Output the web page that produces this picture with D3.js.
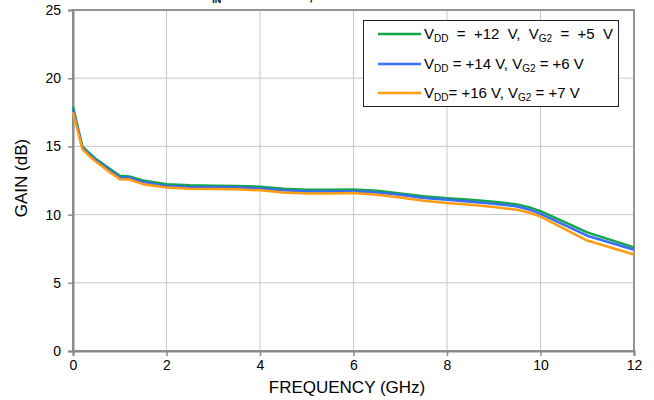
<!DOCTYPE html>
<html>
<head>
<meta charset="utf-8">
<script src="https://cdn.jsdelivr.net/npm/d3@7"></script>
<style>
  html, body { margin: 0; padding: 0; background: #fff; }
  svg { display: block; font-family: "Liberation Sans", Arial, sans-serif; }
</style>
</head>
<body>
<svg id="chart" width="654" height="400"></svg>
<script>
// ---- data ----
const freq = [0, 0.2, 0.35, 0.5, 0.75, 1.0, 1.2, 1.5, 2, 2.5, 3, 3.5, 4, 4.5, 5, 5.5, 6, 6.5, 7, 7.5, 8, 8.5, 9, 9.5, 9.75, 10, 11, 12];
const gainV12 = [17.9, 15.0, 14.5, 14.05, 13.45, 12.85, 12.8, 12.5, 12.22, 12.15, 12.12, 12.1, 12.05, 11.9, 11.82, 11.82, 11.84, 11.75, 11.55, 11.35, 11.2, 11.08, 10.95, 10.75, 10.55, 10.25, 8.7, 7.6];
const gainV14 = [17.7, 14.9, 14.4, 13.95, 13.33, 12.72, 12.7, 12.38, 12.1, 12.02, 12.0, 12.0, 11.92, 11.78, 11.7, 11.7, 11.72, 11.62, 11.45, 11.22, 11.08, 10.95, 10.8, 10.6, 10.38, 10.05, 8.45, 7.42];
const gainV16 = [17.5, 14.8, 14.28, 13.85, 13.2, 12.6, 12.57, 12.23, 11.99, 11.9, 11.87, 11.85, 11.78, 11.62, 11.55, 11.55, 11.58, 11.45, 11.25, 11.02, 10.85, 10.72, 10.55, 10.35, 10.15, 9.85, 8.1, 7.07];
const xTicks = [0, 2, 4, 6, 8, 10, 12];
const yTicks = [0, 5, 10, 15, 20, 25];
const seriesNames = [
  {vdd: "+12", vg2: "+5", wide: true},
  {vdd: "+14", vg2: "+6", wide: false},
  {vdd: "+16", vg2: "+7", wide: false}
];
const seriesValues = [gainV12, gainV14, gainV16];
const seriesColors = ["#12a54a", "#3a6cf4", "#ff9c12"];

// ---- layout ----
const svg = d3.select("#chart");
const L = 73, R = 634, T = 10, B = 351;
const x = d3.scaleLinear().domain([0, 12]).range([L, R]);
const y = d3.scaleLinear().domain([0, 25]).range([B, T]);

// partial (clipped at the page top) title, as in the reference
const title = svg.append("text").attr("y", 0).attr("font-size", 14).attr("font-weight", "bold").attr("fill", "#000");
title.append("tspan").attr("x", 203).text("P");
title.append("tspan").attr("font-size", 9).attr("dy", 2.5).text("IN");
title.append("tspan").attr("dy", -2.5).text(" = 0 dBm");
title.append("tspan").attr("x", 309).text(", T = 25°C");

// gridlines
const grid = svg.append("g");
grid.selectAll("line.v").data(xTicks.filter(d => d > 0 && d < 12)).join("line")
  .attr("x1", d => x(d)).attr("x2", d => x(d)).attr("y1", T).attr("y2", B)
  .attr("stroke", "#c8c8c8").attr("stroke-width", 1);
grid.selectAll("line.h").data(yTicks.filter(d => d > 0 && d < 25)).join("line")
  .attr("x1", L).attr("x2", R).attr("y1", d => y(d)).attr("y2", d => y(d))
  .attr("stroke", "#c8c8c8").attr("stroke-width", 1);

// frame
svg.append("rect").attr("x", L).attr("y", T).attr("width", R - L).attr("height", B - T)
  .attr("fill", "none").attr("stroke", "#959595").attr("stroke-width", 2);

// axes
const xAxis = svg.append("g").attr("transform", `translate(0,${B})`)
  .call(d3.axisBottom(x).tickValues(xTicks).tickSize(5).tickPadding(4).tickFormat(d3.format("d")));
const yAxis = svg.append("g").attr("transform", `translate(${L},0)`)
  .call(d3.axisLeft(y).tickValues(yTicks).tickSize(5).tickPadding(7).tickFormat(d3.format("d")));
[xAxis, yAxis].forEach(a => {
  a.select(".domain").attr("stroke", "#8a8a8a").attr("stroke-width", 2);
  a.selectAll(".tick line").attr("stroke", "#8a8a8a").attr("stroke-width", 1.5);
  a.selectAll(".tick text").attr("font-size", 14).attr("fill", "#000")
    .attr("font-family", "Liberation Sans, Arial, sans-serif");
});

// axis titles
svg.append("text").attr("x", 347).attr("y", 393).attr("text-anchor", "middle")
  .attr("font-size", 17).attr("fill", "#000").text("FREQUENCY (GHz)");
svg.append("text").attr("transform", `translate(27,178) rotate(-90)`)
  .attr("text-anchor", "middle").attr("font-size", 17).attr("fill", "#000").text("GAIN (dB)");

// lines
const line = d3.line().x((d, i) => x(freq[i])).y(d => y(d)).curve(d3.curveLinear);
svg.append("g").selectAll("path").data(seriesValues).join("path")
  .attr("d", d => line(d)).attr("fill", "none")
  .attr("stroke", (d, i) => seriesColors[i]).attr("stroke-width", 2.5)
  .attr("stroke-linejoin", "round");

// legend
const lg = svg.append("g");
lg.append("rect").attr("x", 363.5).attr("y", 20.5).attr("width", 255).attr("height", 86)
  .attr("fill", "#fff").attr("stroke", "#222").attr("stroke-width", 1);
const rowY = [34, 64, 93];
seriesNames.forEach((s, i) => {
  lg.append("line").attr("x1", 378).attr("x2", 421).attr("y1", rowY[i]).attr("y2", rowY[i])
    .attr("stroke", seriesColors[i]).attr("stroke-width", 2.5);
  const t = lg.append("text").attr("x", 424).attr("y", rowY[i] + 5).attr("font-size", 15)
    .attr("fill", "#000").style("white-space", "pre");
  const sp = s.wide ? "  " : " ";
  t.append("tspan").text("V");
  t.append("tspan").attr("font-size", 10).attr("dy", 3).text("DD");
  t.append("tspan").attr("dy", -3).text(`${i === 2 ? "" : sp}=${sp}${s.vdd}${sp}V,${sp}V`);
  t.append("tspan").attr("font-size", 10).attr("dy", 3).text("G2");
  t.append("tspan").attr("dy", -3).text(`${sp}=${sp}${s.vg2}${sp}V`);
});
</script>
</body>
</html>
